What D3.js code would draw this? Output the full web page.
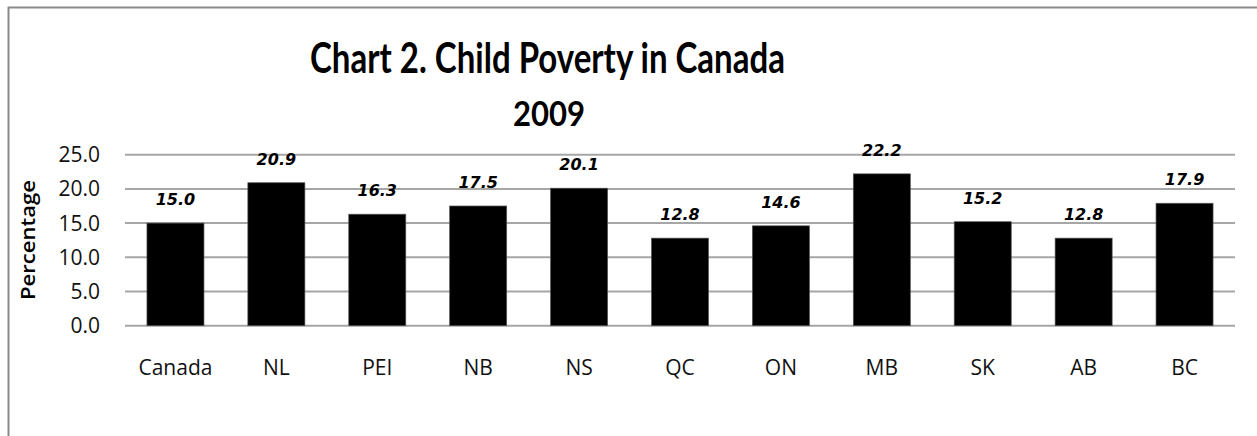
<!DOCTYPE html>
<html><head><meta charset="utf-8">
<script src="https://cdn.jsdelivr.net/npm/d3@7"></script>
<style>html,body{margin:0;padding:0;background:#fff;overflow:hidden}svg{display:block}</style>
</head><body>
<script>
const categories = ["Canada","NL","PEI","NB","NS","QC","ON","MB","SK","AB","BC"];
const values = [15.0,20.9,16.3,17.5,20.1,12.8,14.6,22.2,15.2,12.8,17.9];
const yTicks = [0,5,10,15,20,25];
const titleLines = ["Chart 2. Child Poverty in Canada","2009"];
const yLabel = "Percentage";

const W = 1257, H = 436;
const svg = d3.select("body").append("svg").attr("width",W).attr("height",H);

// frame (extends beyond right/bottom edge like the reference)
svg.append("path").attr("d","M8.5,436 L8.5,7.5 L1257,7.5")
  .attr("fill","none").attr("stroke","#898989").attr("stroke-width",2);

const x = d3.scaleBand().domain(categories).range([125,1235]).paddingInner(0.435).paddingOuter(0.2175);
const y = d3.scaleLinear().domain([0,25]).range([325.7,154.7]);

// gridlines
svg.append("g").selectAll("line").data(yTicks).join("line")
  .attr("x1",125).attr("x2",1235)
  .attr("y1",d=>y(d)).attr("y2",d=>y(d))
  .attr("stroke","#a6a6a6").attr("stroke-width",2);

// y tick labels
svg.append("g").selectAll("text").data(yTicks).join("text")
  .attr("x",100).attr("y",d=>y(d)+7.5)
  .attr("text-anchor","end").attr("font-family","Open Sans").attr("font-size",21).attr("fill","#111")
  .text(d=>d.toFixed(1));

// bars
svg.append("g").selectAll("rect").data(values).join("rect")
  .attr("x",(d,i)=>x(categories[i])).attr("width",x.bandwidth())
  .attr("y",d=>y(d)).attr("height",d=>y(0)-y(d))
  .attr("fill","#000").attr("stroke","#555").attr("stroke-width",0.7);

// value labels
svg.append("g").selectAll("text").data(values).join("text")
  .attr("x",(d,i)=>x(categories[i])+x.bandwidth()/2).attr("y",d=>y(d)-18)
  .attr("text-anchor","middle").attr("font-family","DejaVu Sans").attr("font-weight","bold")
  .attr("font-style","italic").attr("font-size",16).attr("fill","#000")
  .text(d=>d.toFixed(1));

// x labels
svg.append("g").selectAll("text").data(categories).join("text")
  .attr("x",d=>x(d)+x.bandwidth()/2).attr("y",375)
  .attr("text-anchor","middle").attr("font-family","Open Sans").attr("font-size",21).attr("fill","#111")
  .text(d=>d);

// y axis title
svg.append("text").attr("transform","translate(35,240) rotate(-90)")
  .attr("text-anchor","middle").attr("font-family","Open Sans").attr("font-weight",600)
  .attr("font-size",20).attr("textLength",120).attr("lengthAdjust","spacingAndGlyphs")
  .attr("fill","#000").text(yLabel);

// title
svg.append("text").attr("x",547.5).attr("y",72.5).attr("text-anchor","middle")
  .attr("font-family","Lato").attr("font-weight","bold").attr("font-size",42)
  .attr("textLength",475).attr("lengthAdjust","spacingAndGlyphs").attr("fill","#000")
  .text(titleLines[0]);
svg.append("text").attr("x",549).attr("y",126).attr("text-anchor","middle")
  .attr("font-family","Lato").attr("font-weight","bold").attr("font-size",34)
  .attr("textLength",72).attr("lengthAdjust","spacingAndGlyphs").attr("fill","#000")
  .text(titleLines[1]);
</script>
</body></html>
